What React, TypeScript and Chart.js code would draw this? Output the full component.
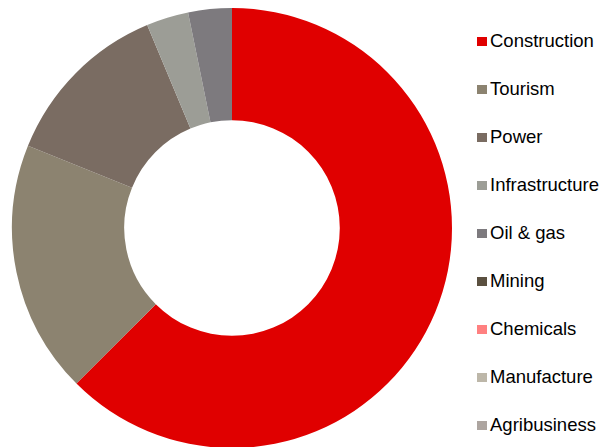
import React, { useEffect, useRef } from "react";
import { Chart, registerables } from "chart.js";

Chart.register(...registerables);

const categories = ["Construction", "Tourism", "Power", "Infrastructure", "Oil & gas", "Mining", "Chemicals", "Manufacture", "Agribusiness"];
const shares = [62.5, 18.6, 12.6, 3.1, 3.2, 0, 0, 0, 0];
const colors = ["#E00000", "#8C8370", "#7A6C62", "#9C9D96", "#7D7A7E", "#5B5040", "#FF8080", "#BDB7A9", "#ADA5A0"];

export default function App() {
  const ref = useRef<HTMLCanvasElement>(null);
  useEffect(() => {
    const chart = new Chart(ref.current!, {
      type: "doughnut",
      data: {
        labels: categories,
        datasets: [{ data: shares, backgroundColor: colors, borderWidth: 0 }],
      },
      options: {
        animation: false,
        responsive: false,
        cutout: "49%",
        layout: { padding: 0 },
        plugins: {
          tooltip: { enabled: false },
          legend: { display: false },
        },
      },
    });
    return () => chart.destroy();
  }, []);
  return (
    <div style={{ position: "relative", width: 591, height: 439 }}>
      <canvas ref={ref} width={448} height={440} style={{ display: "block", position: "absolute", left: 0, top: 0 }} />
      {categories.map((c, i) => (
        <div
          key={c}
          style={{
            position: "absolute",
            left: 469,
            top: 33 + i * 48 - 10,
            height: 20,
            display: "flex",
            alignItems: "center",
            fontFamily: "'Liberation Sans', Arial, sans-serif",
            fontSize: 18.5,
            color: "#000",
            whiteSpace: "nowrap",
          }}
        >
          <span style={{ display: "inline-block", width: 10, height: 9, background: colors[i], marginRight: 3 }} />
          <span>{c}</span>
        </div>
      ))}
    </div>
  );
}
